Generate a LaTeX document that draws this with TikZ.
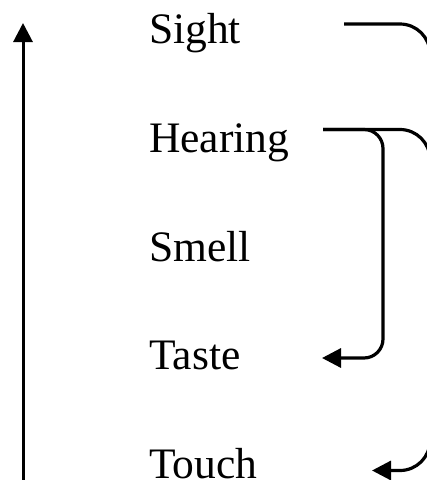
\documentclass[tikz,border=0pt]{standalone}
\usepackage{fontspec}
\setmainfont{Liberation Serif}
\usetikzlibrary{arrows.meta}
\begin{document}
\begin{tikzpicture}[x=1pt,y=1pt,
  sense/.style={anchor=base west, inner sep=0pt, font=\fontsize{43.5}{50}\selectfont},
  link/.style={line width=3.2pt, rounded corners=30pt},
  bracket/.style={line width=3.2pt, rounded corners=19pt},
  tip/.style={-{Triangle[length=19pt,width=19pt]}}]
\useasboundingbox (0,0) rectangle (427,-480);
\clip (0,0) rectangle (427,-480);

% the five senses
\node[sense] (sight)   at (149,-43.5)  {Sight};
\node[sense] (hearing) at (149,-152.2) {Hearing};
\node[sense] (smell)   at (149,-261.0) {Smell};
\node[sense] (taste)   at (149,-369.8) {Taste};
\node[sense] (touch)   at (149,-478.5) {Touch};

% connector ends
\coordinate (sightOut) at (344,-24);
\coordinate (hearOut)  at (323,-129.5);
\coordinate (tasteIn)  at (322,-358);
\coordinate (touchIn)  at (372,-470.5);
\coordinate (axisLow)  at (23,-482);
\coordinate (axisTop)  at (23,-23);

% outer loops running past the right edge
\draw[link,tip] (sightOut) -- (430,-24) -- (430,-470.5) -- (touchIn);
\draw[link] (hearOut) -- (430,-129.5) -- (430,-220);

% inner bracket from hearing to taste
\draw[bracket,tip] (hearOut) -- (383,-129.5) -- (383,-358) -- (tasteIn);

% vertical axis
\draw[line width=3pt,tip] (axisLow) -- (axisTop);
\end{tikzpicture}
\end{document}
